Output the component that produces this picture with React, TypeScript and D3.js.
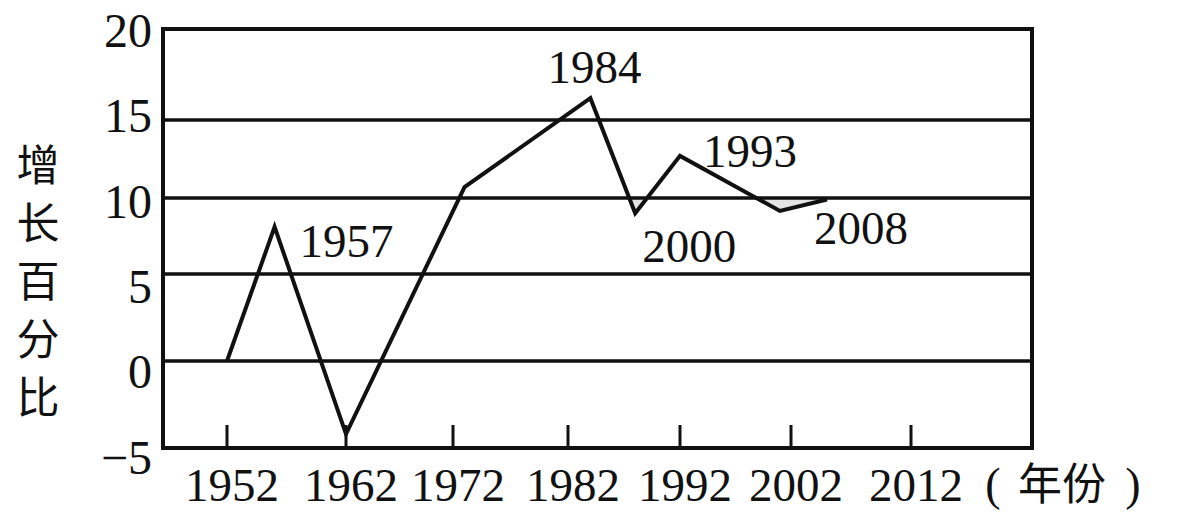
import React from "react";
import * as d3 from "d3";

// ---- data ----
const years = [1952, 1956, 1962, 1973, 1984, 1988, 1992, 2001, 2005];
const growth = [0, 8.1, -4.2, 10.7, 16.2, 9.0, 12.7, 9.15, 9.9];
const xTicks = [1952, 1962, 1972, 1982, 1992, 2002, 2012];
const yTicks = [20, 15, 10, 5, 0, -5];
const annotationTexts = ["1957", "1984", "1993", "2000", "2008"];
const annotationPointIndex = [1, 4, 6, 5, 8];
const yTitleChars = ["增", "长", "百", "分", "比"];
const xTitleText = "年份";

const W = 1202;
const H = 528;
const left = 163;
const right = 1032;
const ink = "#111";
const serif = "'Liberation Serif', 'Times New Roman', serif";
const cjk = "'Noto Sans CJK SC', sans-serif";

// annotation placement (pixel offsets from their point)
const annoStyle = [
  { dx: 25, dy: 30, anchor: "start" },
  { dx: 4, dy: -15, anchor: "middle" },
  { dx: 23, dy: 11, anchor: "start" },
  { dx: 7, dy: 49, anchor: "start" },
  { dx: -13, dy: 44, anchor: "start" },
];

export default function App() {
  const x = d3.scaleLinear().domain(xTicks).range([227, 346, 453, 568, 680, 791, 911]);
  const y = d3.scaleLinear().domain(yTicks).range([29, 120, 198, 274, 361, 448]);
  const yLab = d3.scaleLinear().domain([20, -5]).range([30, 457]);

  const pts: [number, number][] = years.map((yr, i) => [yr, growth[i]]);
  const line = d3
    .line<[number, number]>()
    .x((d) => x(d[0]))
    .y((d) => y(d[1]));
  const area = d3
    .area<[number, number]>()
    .x((d) => x(d[0]))
    .y0(y(10))
    .y1((d) => y(d[1]));

  const top = y(20);
  const bottom = y(-5);

  return (
    <svg
      width={W}
      height={H}
      style={{ position: "absolute", left: 0, top: 0, background: "#fff" }}
    >
      <defs>
        <clipPath id="below10">
          <rect x={left} y={y(10)} width={right - left} height={y(5) - y(10)} />
        </clipPath>
      </defs>
      <rect x={0} y={0} width={W} height={H} fill="#fff" />

      {/* faint shading below the 10 line */}
      <path d={area(pts.slice(4)) || ""} fill="#e4e4e4" clipPath="url(#below10)" />

      {/* grid lines */}
      {yTicks
        .filter((v) => v !== 20 && v !== -5)
        .map((v) => (
          <line key={v} x1={left} x2={right} y1={y(v)} y2={y(v)} stroke={ink} strokeWidth={3.5} />
        ))}

      {/* frame */}
      <rect
        x={left}
        y={top}
        width={right - left}
        height={bottom - top}
        fill="none"
        stroke={ink}
        strokeWidth={4}
      />

      {/* x ticks */}
      {xTicks.map((t) => (
        <line key={t} x1={x(t)} x2={x(t)} y1={bottom} y2={bottom - 23} stroke={ink} strokeWidth={3} />
      ))}

      {/* data line */}
      <path
        d={line(pts) || ""}
        fill="none"
        stroke={ink}
        strokeWidth={4}
        strokeLinejoin="miter"
      />

      {/* y tick labels */}
      {yTicks.map((v) => (
        <text
          key={v}
          x={152}
          y={yLab(v)}
          dy="0.35em"
          textAnchor="end"
          fontFamily={serif}
          fontSize={48}
          fill={ink}
        >
          {v < 0 ? "\u2212" + Math.abs(v) : String(v)}
        </text>
      ))}

      {/* x tick labels */}
      {xTicks.map((t) => (
        <text
          key={t}
          x={x(t) + 5}
          y={501}
          textAnchor="middle"
          fontFamily={serif}
          fontSize={47}
          fill={ink}
        >
          {t}
        </text>
      ))}

      {/* x title */}
      <text x={993} y={500} textAnchor="middle" fontFamily={serif} fontSize={46} fill={ink}>
        (
      </text>
      <text x={1018} y={500} fontFamily={cjk} fontSize={44} fill={ink}>
        {xTitleText}
      </text>
      <text x={1133} y={500} textAnchor="middle" fontFamily={serif} fontSize={46} fill={ink}>
        )
      </text>

      {/* y title (vertical) */}
      {yTitleChars.map((c, i) => (
        <text
          key={c}
          x={38}
          y={166 + i * 58}
          dy="0.36em"
          textAnchor="middle"
          fontFamily={cjk}
          fontSize={43}
          fill={ink}
        >
          {c}
        </text>
      ))}

      {/* annotations */}
      {annotationTexts.map((t, i) => {
        const p = pts[annotationPointIndex[i]];
        const s = annoStyle[i];
        return (
          <text
            key={t}
            x={x(p[0]) + s.dx}
            y={y(p[1]) + s.dy}
            textAnchor={s.anchor as any}
            fontFamily={serif}
            fontSize={47}
            fill={ink}
          >
            {t}
          </text>
        );
      })}
    </svg>
  );
}
